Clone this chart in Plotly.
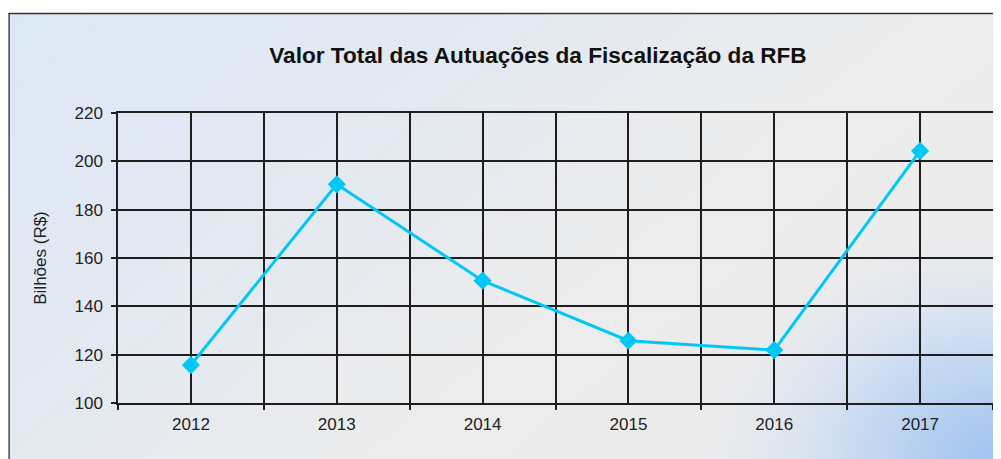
import base64
import plotly.graph_objects as go

years = ["2012", "2013", "2014", "2015", "2016", "2017"]
values = [115.7, 190.5, 150.6, 125.8, 121.9, 204.3]
y_ticks = [100, 120, 140, 160, 180, 200, 220]

OFF = 8  # default body margin of the written page
W, H = 1001 - OFF, 459 - OFF
L, R, T, B = 118 - OFF, 6, 113 - OFF, 56
pw, ph = W - L - R, H - T - B

svg = f'''<svg xmlns="http://www.w3.org/2000/svg" width="{W}" height="{H}" viewBox="0 0 {W} {H}">
<defs>
<linearGradient id="g" gradientUnits="userSpaceOnUse" x1="{403.6-OFF}" y1="{-292.6-OFF}" x2="{W}" y2="{H}">
<stop offset="0" stop-color="#dde8f6"/>
<stop offset="0.35" stop-color="#e4e9f1"/>
<stop offset="0.6" stop-color="#ececec"/>
<stop offset="1" stop-color="#eaebed"/>
</linearGradient>
<radialGradient id="rg" gradientUnits="userSpaceOnUse" cx="0" cy="0" r="1"
 gradientTransform="translate({W} {H}) scale(300 230)">
<stop offset="0" stop-color="#9fc3f0" stop-opacity="1"/>
<stop offset="0.25" stop-color="#b4cef0" stop-opacity="1"/>
<stop offset="0.5" stop-color="#c6d9f2" stop-opacity="0.9"/>
<stop offset="0.75" stop-color="#d6e2f2" stop-opacity="0.5"/>
<stop offset="1" stop-color="#e2e8f0" stop-opacity="0"/>
</radialGradient>
</defs>
<rect x="0" y="{13-OFF}" width="{W}" height="{H}" fill="url(#g)"/>
<rect x="0" y="{13-OFF}" width="{W}" height="{H}" fill="url(#rg)"/>
<line x1="0" y1="{13.5-OFF}" x2="{W}" y2="{13.5-OFF}" stroke="#333" stroke-width="1.5"/>
<line x1="0.75" y1="{13-OFF}" x2="0.75" y2="{H}" stroke="#333" stroke-width="1.5"/>
</svg>'''
src = "data:image/svg+xml;base64," + base64.b64encode(svg.encode()).decode()

xs = list(range(len(years)))
bounds = [i - 0.5 for i in range(len(years) + 1)]

fig = go.Figure()
fig.add_trace(go.Scatter(
    x=xs, y=values, mode="lines+markers",
    line=dict(color="#00c8f6", width=3),
    marker=dict(symbol="diamond", size=14, color="#00c8f6"),
    hoverinfo="skip", showlegend=False,
))

grid = "#1e1e1e"
fig.update_layout(
    width=W, height=H,
    margin=dict(l=L, r=R, t=T, b=B),
    paper_bgcolor="white",
    plot_bgcolor="rgba(0,0,0,0)",
    font=dict(family="Liberation Sans, Arial, sans-serif", size=16, color="#222"),
    title=dict(text="Valor Total das Autuações da Fiscalização da RFB",
               font=dict(size=22.6, color="#111", weight="bold"),
               x=(538 - OFF) / W, xref="container", xanchor="center",
               y=1 - (55 - OFF) / H, yref="container", yanchor="middle"),
    images=[dict(source=src, xref="paper", yref="paper",
                 x=-L / pw, y=(H - B) / ph, sizex=W / pw, sizey=H / ph,
                 xanchor="left", yanchor="top", sizing="stretch", layer="below")],
    xaxis=dict(range=[-0.5, len(years) - 0.5], tickmode="array", tickvals=xs, ticktext=years,
               ticks="", showgrid=True, gridcolor=grid, gridwidth=1.5,
               showline=True, linecolor=grid, linewidth=1.5, mirror=True, zeroline=False,
               tickfont=dict(size=17), ticklabelstandoff=5,
               minor=dict(tickmode="array", tickvals=bounds, ticks="outside", ticklen=5,
                          tickwidth=1.5, tickcolor=grid, showgrid=True,
                          gridcolor=grid, gridwidth=1.5)),
    yaxis=dict(range=[100, 220], tickmode="array", tickvals=y_ticks,
               ticks="outside", ticklen=5, tickwidth=1.5, tickcolor=grid,
               showgrid=True, gridcolor=grid, gridwidth=1.5,
               showline=True, linecolor=grid, linewidth=1.5, mirror=True, zeroline=False,
               tickfont=dict(size=17), ticklabelstandoff=5,
               title=dict(text="Bilhões (R$)", font=dict(size=17), standoff=24)),
)

fig.write_html("out.html")
